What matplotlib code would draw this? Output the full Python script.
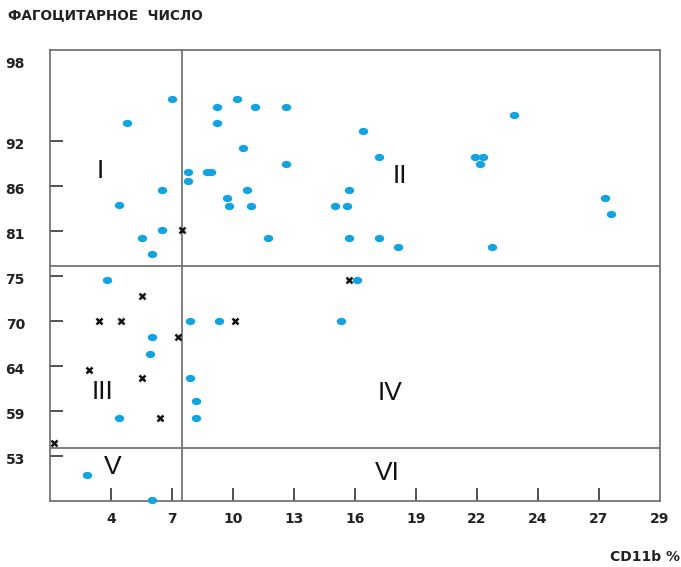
import numpy as np
import matplotlib
matplotlib.use("Agg")
import matplotlib.pyplot as plt
import matplotlib.transforms as mtransforms
from matplotlib.path import Path

# axis ticks (the scale is not linear: equal spacing between labels)
xticks = [4, 7, 10, 13, 16, 19, 22, 24, 27, 29]
yticks = [53, 59, 64, 70, 75, 81, 86, 92, 98]

# blue points: CD11b %, phagocytic number
blue_x = [7.0, 4.8, 7.8, 7.8, 6.5, 4.4, 6.5, 5.5, 6.0, 3.8, 6.0, 5.9, 7.9, 9.3,
          7.9, 8.2, 8.2, 4.4, 2.8, 6.0,
          10.2, 9.2, 11.1, 12.6, 9.2, 16.4, 10.5, 17.2, 12.6, 8.7, 8.9, 10.7,
          15.7, 9.7, 9.8, 10.9, 15.0, 15.6, 11.7, 15.7, 17.2, 18.1, 23.2, 21.9,
          22.2, 22.1, 27.2, 27.4, 22.5, 16.1, 15.3]
blue_y = [95.1, 93.3, 87.9, 86.7, 85.6, 83.9, 81.1, 80.0, 77.9, 74.6, 67.9, 65.6, 70.0, 70.0,
          62.7, 60.1, 58.0, 58.0, 50.4, 47.1,
          95.1, 94.5, 94.5, 94.5, 93.3, 92.7, 91.0, 89.9, 88.9, 87.9, 87.9, 85.6,
          85.6, 84.7, 83.8, 83.8, 83.8, 83.8, 80.0, 80.0, 80.0, 78.9, 93.9, 89.9,
          89.9, 88.9, 84.7, 82.9, 78.9, 74.6, 70.0]

# black crosses
cross_x = [7.5, 5.5, 3.4, 4.5, 7.3, 2.9, 5.5, 6.4, 1.2, 10.1, 15.7]
cross_y = [81.1, 72.8, 70.0, 70.0, 67.9, 63.6, 62.7, 58.0, 54.7, 70.0, 74.6]

# quadrant borders
x_split = 7.5
y_split_hi = 76.3
y_split_lo = 54.1

# piecewise scales so that the labels sit where they do in the picture
xv = np.array([1, 4, 7, 10, 13, 16, 19, 22, 24, 27, 29, 31], float)
xp = np.array([-1, 0, 1, 2, 3, 4, 5, 6, 7, 8, 9, 10], float)
yv = np.array([41, 47, 53, 59, 64, 70, 75, 81, 86, 92, 98, 101.33], float)
yp = np.array([-2, -1, 0, 1, 2, 3, 4, 5, 6, 7, 8.8, 9.8], float)


def xf(v):
    return np.interp(v, xv, xp)


def xi(p):
    return np.interp(p, xp, xv)


def yf(v):
    return np.interp(v, yv, yp)


def yi(p):
    return np.interp(p, yp, yv)


t = np.linspace(0, 2 * np.pi, 40)
ellipse = Path(np.column_stack([1.3 * np.cos(t), np.sin(t)]), closed=True)

fig = plt.figure(figsize=(6.81, 5.67), dpi=100)
ax = fig.add_axes([50 / 681, 66 / 567, 610 / 681, 451 / 567])
ax.set_xscale("function", functions=(xf, xi))
ax.set_yscale("function", functions=(yf, yi))
ax.set_xlim(1, 29)
ax.set_ylim(47, 98.73)

grey = "#6a6a6a"
ax.axvline(x_split, color=grey, lw=1.2)
ax.axhline(y_split_hi, color=grey, lw=1.2)
ax.axhline(y_split_lo, color=grey, lw=1.2)

ax.plot(blue_x, blue_y, linestyle="none", marker=ellipse, markersize=6.8,
        color="#12a3e3", markeredgewidth=0, clip_on=False, zorder=3)
ax.plot(cross_x, cross_y, linestyle="none", marker="x", markersize=5,
        color="#111111", markeredgewidth=1.8, clip_on=False, zorder=4)

for s in ax.spines.values():
    s.set_color(grey)
    s.set_linewidth(1.2)

ax.set_xticks(xticks)
ax.set_yticks(yticks)
ax.set_xticklabels([str(v) for v in xticks])
ax.set_yticklabels([str(v) for v in yticks])
ax.xaxis.set_minor_locator(matplotlib.ticker.NullLocator())
ax.yaxis.set_minor_locator(matplotlib.ticker.NullLocator())
ax.tick_params(direction="in", length=9.5, width=1.2, color="#333333",
               labelsize=10, pad=8)
ax.tick_params(axis="y", pad=18)
for lab in ax.get_xticklabels() + ax.get_yticklabels():
    lab.set_fontweight("bold")
    lab.set_color("#222222")
ax.xaxis.get_major_ticks()[-1].tick1line.set_visible(False)
ax.yaxis.get_major_ticks()[-1].tick1line.set_visible(False)
off = mtransforms.ScaledTranslation(0, -3 / 100, fig.dpi_scale_trans)
for lab in ax.get_yticklabels():
    lab.set_transform(lab.get_transform() + off)

rn = dict(fontsize=19, family="Liberation Sans", color="#111111",
          ha="center", va="center")
ax.text(3.46, 88.0, "I", **rn)
ax.text(18.2, 87.3, "II", **rn)
ax.text(3.56, 61.1, "III", **rn)
ax.text(17.7, 61.0, "IV", **rn)
ax.text(4.1, 51.5, "V", **rn)
ax.text(17.6, 50.7, "VI", **rn)

fig.text(8 / 681, 1 - 15 / 567, "ФАГОЦИТАРНОЕ  ЧИСЛО", fontsize=9.8,
         fontweight="bold", color="#222222", ha="left", va="center")
fig.text(680 / 681, 1 - 557 / 567, "CD11b %", fontsize=10,
         fontweight="bold", color="#222222", ha="right", va="center")

fig.savefig("out.png", dpi=100)
